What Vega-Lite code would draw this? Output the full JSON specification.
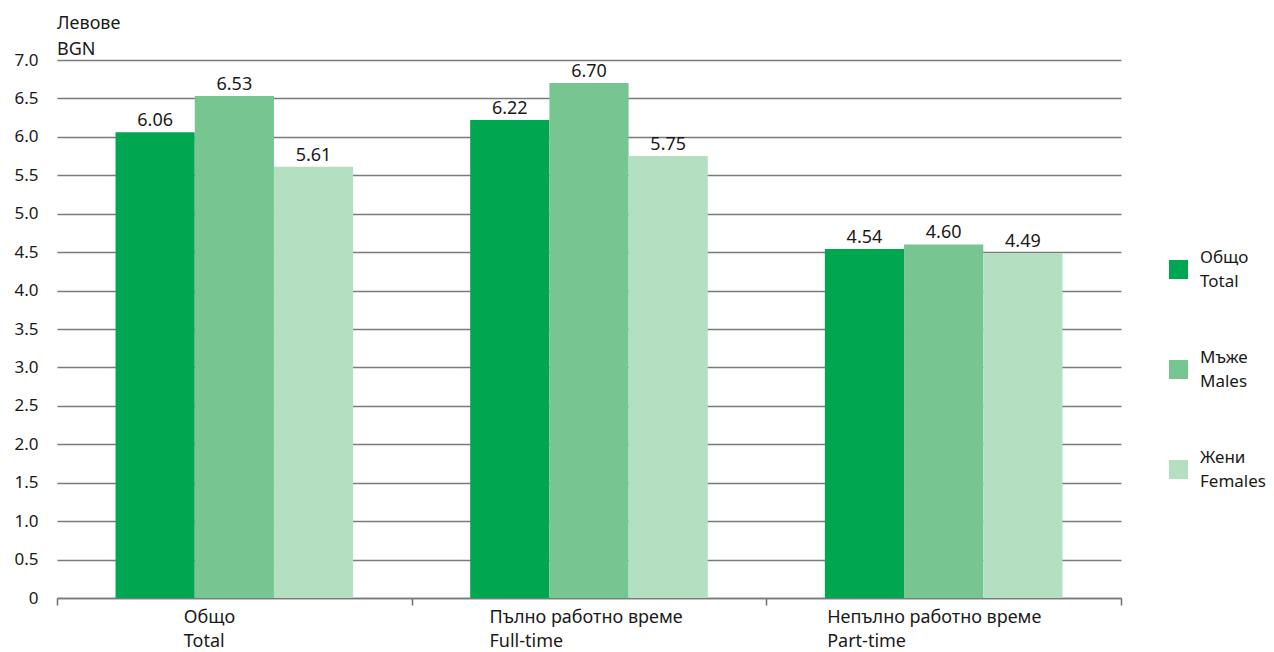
{
  "$schema": "https://vega.github.io/schema/vega-lite/v6.json",
  "width": 1064,
  "height": 538,
  "autosize": "none",
  "padding": {"left": 57, "top": 60, "right": 153, "bottom": 54},
  "background": "white",
  "config": {
    "font": "Noto Sans",
    "view": {"stroke": null},
    "text": {"color": "#1a1a1a"},
    "style": {"guide-label": {"lineHeight": 24}}
  },
  "title": {
    "text": ["Левове", "BGN"],
    "anchor": "start",
    "frame": "group",
    "fontSize": 18,
    "fontWeight": "normal",
    "color": "#1a1a1a",
    "lineHeight": 26,
    "offset": -8
  },
  "data": {
    "values": [
      {"cat": "Общо|Total", "sex": "Общо|Total", "value": 6.06},
      {"cat": "Общо|Total", "sex": "Мъже|Males", "value": 6.53},
      {"cat": "Общо|Total", "sex": "Жени|Females", "value": 5.61},
      {"cat": "Пълно работно време|Full-time", "sex": "Общо|Total", "value": 6.22},
      {"cat": "Пълно работно време|Full-time", "sex": "Мъже|Males", "value": 6.70},
      {"cat": "Пълно работно време|Full-time", "sex": "Жени|Females", "value": 5.75},
      {"cat": "Непълно работно време|Part-time", "sex": "Общо|Total", "value": 4.54},
      {"cat": "Непълно работно време|Part-time", "sex": "Мъже|Males", "value": 4.60},
      {"cat": "Непълно работно време|Part-time", "sex": "Жени|Females", "value": 4.49}
    ]
  },
  "encoding": {
    "x": {
      "field": "cat",
      "type": "nominal",
      "sort": ["Общо|Total", "Пълно работно време|Full-time", "Непълно работно време|Part-time"],
      "scale": {"paddingInner": 0, "paddingOuter": 0},
      "axis": {
        "title": null,
        "labelAngle": 0,
        "tickBand": "extent",
        "tickSize": 7,
        "tickWidth": 1.5,
        "tickColor": "#6e6e6e",
        "domainColor": "#7a7a7a",
        "domainWidth": 1.5,
        "grid": false,
        "labelAlign": "left",
        "labelBaseline": "top",
        "labelPadding": 3,
        "labelFontSize": 18,
        "labelColor": "#1a1a1a",
        "labelLineHeight": 24,
        "labelLimit": 400,
        "labelExpr": "isValid(datum.value) ? split(datum.value, '|') : ''",
        "labelOffset": {
          "condition": [
            {"test": "datum.value === 'Общо|Total'", "value": -51},
            {"test": "datum.value === 'Пълно работно време|Full-time'", "value": -100}
          ],
          "value": -117
        }
      }
    },
    "xOffset": {
      "field": "sex",
      "type": "nominal",
      "sort": ["Общо|Total", "Мъже|Males", "Жени|Females"],
      "scale": {"paddingInner": 0, "paddingOuter": 0.739}
    },
    "y": {
      "field": "value",
      "type": "quantitative",
      "scale": {"domain": [0, 7], "nice": false},
      "axis": {
        "title": null,
        "values": [0, 0.5, 1, 1.5, 2, 2.5, 3, 3.5, 4, 4.5, 5, 5.5, 6, 6.5, 7],
        "labelExpr": "datum.value === 0 ? '0' : format(datum.value, '.1f')",
        "domain": false,
        "ticks": false,
        "grid": true,
        "gridColor": "#7a7a7a",
        "gridWidth": 1.5,
        "labelPadding": 19,
        "labelFontSize": 17,
        "labelColor": "#1a1a1a"
      }
    }
  },
  "layer": [
    {
      "mark": {"type": "bar"},
      "encoding": {
        "color": {
          "field": "sex",
          "type": "nominal",
          "scale": {
            "domain": ["Общо|Total", "Мъже|Males", "Жени|Females"],
            "range": ["#00a650", "#77c692", "#b5dfc1"]
          },
          "legend": {
            "title": null,
            "orient": "none",
            "legendX": 1112,
            "legendY": 200,
            "symbolType": "square",
            "symbolSize": 361,
            "symbolStrokeWidth": 0,
            "labelOffset": 12,
            "labelFontSize": 17,
            "labelColor": "#1a1a1a",
            "labelBaseline": "line-bottom",
            "labelExpr": "split(datum.value, '|')",
            "rowPadding": 58,
            "labelLimit": 200
          }
        }
      }
    },
    {
      "mark": {"type": "text", "baseline": "alphabetic", "dy": -6, "fontSize": 18, "color": "#1a1a1a"},
      "encoding": {
        "text": {"field": "value", "type": "quantitative", "format": ".2f"}
      }
    }
  ]
}
